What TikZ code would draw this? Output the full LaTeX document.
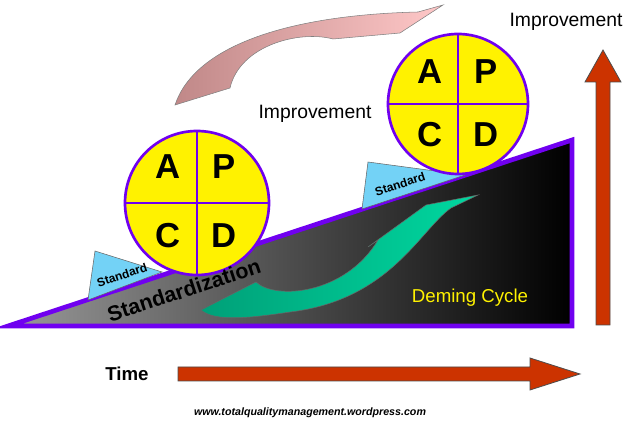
\documentclass[tikz,border=0pt]{standalone}
\usepackage{fontspec}
\setmainfont{Liberation Sans}
\definecolor{bigred}{HTML}{CC3300}
\definecolor{pinkL}{HTML}{C08888}
\definecolor{pinkR}{HTML}{FFC8C8}
\definecolor{grnL}{HTML}{00A078}
\definecolor{grnR}{HTML}{00D8A0}
\definecolor{purp}{HTML}{7000F0}
\begin{document}
\begin{tikzpicture}[x=0.75pt,y=-0.75pt,
  circ/.style={draw=purp,line width=2pt,fill=yellow},
  lett/.style={font=\bfseries\fontsize{26}{26}\selectfont},
  wedge/.style={draw=black!60,fill=cyan!55,line width=0.4pt},
  std/.style={font=\bfseries\fontsize{9}{9}\selectfont,rotate=18.3},
  big/.style={draw=black!70,fill=bigred,line width=0.6pt}]
\path[use as bounding box] (0,0) rectangle (640,427);
% incline
\shade[left color=black!40,right color=black] (8,326) -- (572,140) -- (572,326) -- cycle;
\draw[purp,line width=3.5pt,line join=miter] (8,326) -- (572,140) -- (572,326) -- cycle;
% wedges
\draw[wedge] (88,300) -- (95,251) -- (162,272) -- cycle;
\node[std] (s1) at (122,275) {Standard};
\draw[wedge] (362,209) -- (368,162) -- (465,175) -- cycle;
\node[std] (s2) at (400,184) {Standard};
% circles
\draw[circ] (197,203) circle (72);
\draw[purp,line width=1.5pt] (197,131) -- (197,275) (125,203) -- (269,203);
\node[lett] (a1) at (168,167) {A}; \node[lett] (p1) at (224,167) {P};
\node[lett] (c1) at (168,236) {C}; \node[lett] (d1) at (224,236) {D};
\draw[circ] (458,104) circle (70);
\draw[purp,line width=1.5pt] (458,34) -- (458,174) (388,104) -- (528,104);
\node[lett] (a2) at (430,72) {A}; \node[lett] (p2) at (486,72) {P};
\node[lett] (c2) at (430,135) {C}; \node[lett] (d2) at (486,135) {D};
% texts
\node[font=\bfseries\fontsize{16}{16}\selectfont,rotate=18.3] (st) at (184,290) {Standardization};
\node[text=yellow,font=\fontsize{14}{14}\selectfont] (dc) at (470,298) {Deming Cycle};
\node[font=\fontsize{14.5}{14.5}\selectfont] (im1) at (315,114) {Improvement};
\node[font=\fontsize{14.5}{14.5}\selectfont] (im2) at (566,22) {Improvement};
\node[font=\bfseries\fontsize{14}{14}\selectfont] (tm) at (127,374) {Time};
\node[font=\bfseries\itshape\fontsize{8}{8}\selectfont] (url) at (310,413) {www.totalqualitymanagement.wordpress.com};
% pink arrow
\draw[draw=black!50,left color=pinkL,right color=pinkR,line width=0.4pt]
  (175,105) .. controls (195,45) and (290,15) .. (418,12) -- (443,5) -- (400,33) -- (333,39)
  .. controls (300,30) and (240,45) .. (230,88) -- cycle;
% green arrow
\draw[draw=black!60,left color=grnL,right color=grnR,line width=0.4pt]
  (201,310) -- (256,282) .. controls (275,300) and (345,295) .. (378,240) -- (368,247)
  -- (426,205) -- (478,195) -- (451,208) .. controls (420,230) and (390,300) .. (290,312)
  .. controls (250,318) and (215,322) .. (201,310) -- cycle;
% big arrows
\draw[big] (596,325) -- (596,82) -- (585,82) -- (603,50) -- (621,82) -- (610,82) -- (610,325) -- cycle;
\draw[big] (178,367) -- (530,367) -- (530,358) -- (580,374) -- (530,390) -- (530,381) -- (178,381) -- cycle;
\end{tikzpicture}
\end{document}
